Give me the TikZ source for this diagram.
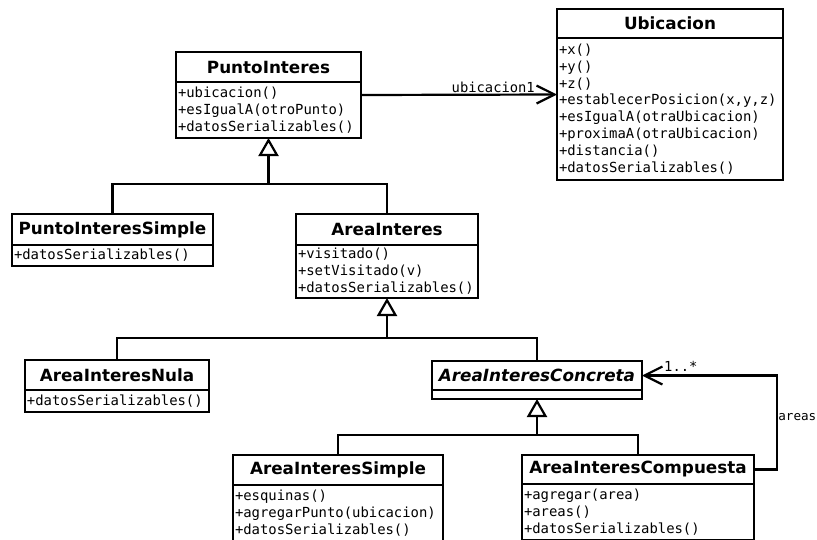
\documentclass[tikz,border=0pt]{standalone}
\usepackage{fontspec}
\setmainfont{DejaVu Sans}
\newfontfamily\monofam{DejaVu Sans Mono}
\usetikzlibrary{arrows.meta,fit}

\tikzset{
  x=1pt, y=-1pt,
  classtitle/.style={draw, line width=2.2pt, fill=white, inner sep=0pt, outer sep=0pt,
    font=\fontsize{16.8pt}{20pt}\selectfont\bfseries},
  classbody/.style={draw, line width=2.2pt, fill=white, anchor=north, outer sep=0pt,
    inner xsep=2pt, inner ysep=0pt, align=left,
    font=\monofam\fontsize{13.9pt}{16.9pt}\selectfont},
  wholeclass/.style={inner sep=0pt, outer sep=0pt},
  edge/.style={line width=2.2pt},
  inherit/.style={edge, -{Triangle[open, width=20pt, length=18pt, line width=2.2pt, fill=white]}},
  assoc/.style={edge, -{Straight Barb[length=18pt, width=18pt, line width=2.2pt]}},
  rolelabel/.style={inner sep=0pt, font=\monofam\fontsize{13.8pt}{16.9pt}\selectfont},
}

\begin{document}
\begin{tikzpicture}
\clip (0,0) rectangle (817,539);
\fill[white] (0,0) rectangle (817,539);

% PuntoInteres
\node[classtitle, minimum width=185pt, minimum height=30pt] (pi) at (268.5,67) {PuntoInteres};
\node[classbody, text width=181pt, minimum height=56pt] (pim) at (pi.south)
  {+ubicacion()\\+esIgualA(otroPunto)\\+datosSerializables()};
\node[wholeclass, fit=(pi)(pim)] (piall) {};

% Ubicacion
\node[classtitle, minimum width=226pt, minimum height=29pt] (ub) at (670,23.5) {Ubicacion};
\node[classbody, text width=222pt, minimum height=142pt] (ubm) at (ub.south)
  {+x()\\+y()\\+z()\\+establecerPosicion(x,y,z)\\+esIgualA(otraUbicacion)\\+proximaA(otraUbicacion)\\+distancia()\\+datosSerializables()};
\node[wholeclass, fit=(ub)(ubm)] (uball) {};

% PuntoInteresSimple
\node[classtitle, minimum width=201pt, minimum height=31pt] (pis) at (112.5,229.5) {PuntoInteresSimple};
\node[classbody, text width=197pt, minimum height=21pt] (pism) at (pis.south)
  {+datosSerializables()};

% AreaInteres
\node[classtitle, minimum width=182pt, minimum height=31pt] (ai) at (387,229.5) {AreaInteres};
\node[classbody, text width=178pt, minimum height=53pt] (aim) at (ai.south)
  {+visitado()\\+setVisitado(v)\\+datosSerializables()};

% AreaInteresNula
\node[classtitle, minimum width=184pt, minimum height=30pt] (ain) at (117,375) {AreaInteresNula};
\node[classbody, text width=180pt, minimum height=22pt] (ainm) at (ain.south)
  {+datosSerializables()};

% AreaInteresConcreta (abstract)
\node[classtitle, minimum width=210pt, minimum height=29pt, font=\fontsize{16.8pt}{20pt}\selectfont\bfseries\itshape] (aic) at (537,375.5) {AreaInteresConcreta};
\node[classbody, text width=206pt, minimum height=9pt] (aicm) at (aic.south) {};

% AreaInteresSimple
\node[classtitle, minimum width=210pt, minimum height=30pt] (ais) at (338,470) {AreaInteresSimple};
\node[classbody, text width=206pt, minimum height=56pt] (aism) at (ais.south)
  {+esquinas()\\+agregarPunto(ubicacion)\\+datosSerializables()};

% AreaInteresCompuesta
\node[classtitle, minimum width=232pt, minimum height=29pt] (aco) at (638,469.5) {AreaInteresCompuesta};
\node[classbody, text width=228pt, minimum height=56pt] (acom) at (aco.south)
  {+agregar(area)\\+areas()\\+datosSerializables()};

% generalisation trees
\coordinate (j1) at (268.5,184);
\coordinate (j2) at (387,338);
\coordinate (j3) at (537,435);

\draw[edge] (pis.north) -- (pis.north |- j1) -- (ai.north |- j1) -- (ai.north);
\draw[inherit] (j1) -- (pim.south);

\draw[edge] (ain.north) -- (ain.north |- j2) -- (aic.north |- j2) -- (aic.north);
\draw[inherit] (j2) -- (aim.south);

\draw[edge] (ais.north) -- (ais.north |- j3) -- (aco.north |- j3) -- (aco.north);
\draw[inherit] (j3) -- (aicm.south);

% associations
\draw[assoc] (piall.east) -- (uball.west);
\node[rolelabel, anchor=base east] (lubic) at (535,92) {ubicacion1};

\coordinate (selfturn) at (777,469.5);
\draw[assoc] (aco.east) -- (selfturn) |- (aic.east);
\node[rolelabel, anchor=base west] (lmult) at (664,371) {1..*};
\node[rolelabel, anchor=east, font=\monofam\fontsize{12.6pt}{15pt}\selectfont] (lareas) at (816.5,417) {areas};
\end{tikzpicture}
\end{document}
